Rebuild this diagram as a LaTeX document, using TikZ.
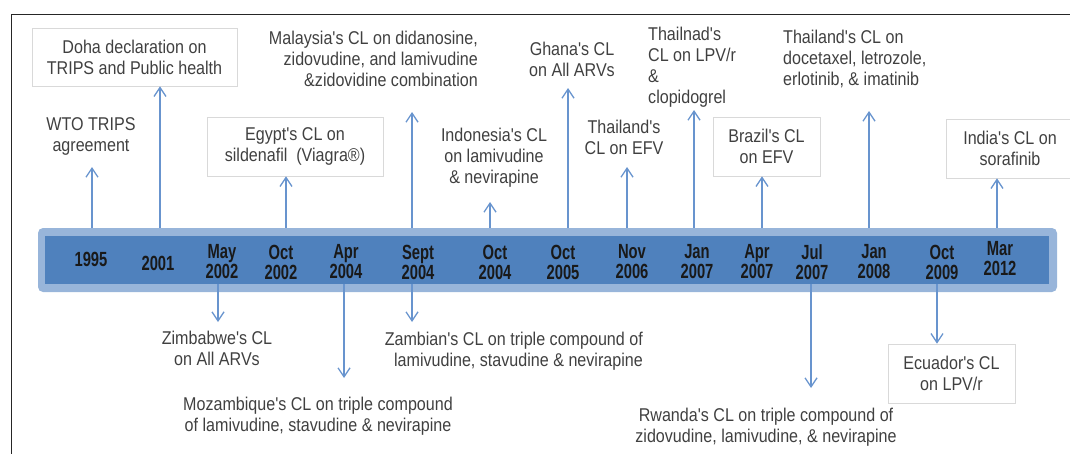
\documentclass[tikz,border=0pt]{standalone}
\usepackage{fontspec}
\setmainfont{Liberation Sans}
\newfontfamily\evfont[FakeStretch=0.87]{Liberation Sans}
\newfontfamily\yrfont[FakeStretch=0.72]{Liberation Sans}
\usetikzlibrary{arrows.meta}
\definecolor{barlight}{RGB}{152,181,218}
\definecolor{bardark}{RGB}{79,129,189}
\definecolor{evblue}{RGB}{104,148,206}
\definecolor{evgrey}{RGB}{64,64,64}
\definecolor{boxline}{RGB}{217,217,217}
\tikzset{
	evtext/.style={font=\evfont\fontsize{18.5}{21}\selectfont, text=evgrey, align=center, inner sep=0pt},
	evbox/.style={evtext, draw=boxline, line width=0.6pt},
	yrtext/.style={font=\yrfont\bfseries\fontsize{20.5}{20}\selectfont, text=black!90, align=center, inner sep=0pt},
	evarrow/.style={draw=evblue, line width=1.3pt, -{Straight Barb[length=9pt,width=12pt]}},
}

\begin{document}
\begin{tikzpicture}[x=1pt,y=-1pt]
		%%%%% START %%%%%
		\useasboundingbox (0,0) rectangle (1070,453);
		
		% frame
		\draw[line width=0.9pt, color=black!85] (11,470) -- (11,14) -- (1080,14);
		
		% time bar
		\node[fill=barlight, rounded corners=5pt, minimum width=1019pt, minimum height=64pt, inner sep=0pt] (bar) at (547.5,260) {};
		\node[fill=bardark, minimum width=1004pt, minimum height=48pt, inner sep=0pt] (barin) at (547,260) {};
		
		\node[yrtext] (y1995) at (91,259) {1995};
		\node[yrtext] (y2001) at (158,263) {2001};
		\node[yrtext] (may02) at (222,262) {May\\2002};
		\node[yrtext] (oct02) at (281,262) {Oct\\2002};
		\node[yrtext] (apr04) at (346,262) {Apr\\2004};
		\node[yrtext] (sep04) at (418,262) {Sept\\2004};
		\node[yrtext] (oct04) at (495,262) {Oct\\2004};
		\node[yrtext] (oct05) at (563,262) {Oct\\2005};
		\node[yrtext] (nov06) at (632,262) {Nov\\2006};
		\node[yrtext] (jan07) at (697,262) {Jan\\2007};
		\node[yrtext] (apr07) at (757,262) {Apr\\2007};
		\node[yrtext] (jul07) at (812,262) {Jul\\2007};
		\node[yrtext] (jan08) at (874,262) {Jan\\2008};
		\node[yrtext] (oct09) at (942,262) {Oct\\2009};
		\node[yrtext] (mar12) at (1000,258.5) {Mar\\2012};
		
		% events above
		\node[evtext] (wto) at (91,136) {WTO TRIPS\\agreement};
		\coordinate (wtotip) at (92,167);
		\draw[evarrow] (bar.north -| wtotip) -- (wtotip);
		
		\node[evbox, minimum width=205pt, minimum height=58pt] (doha) at (134.5,57) {Doha declaration on\\TRIPS and Public health};
		\draw[evarrow] (bar.north -| 160,0) -- (160,0 |- doha.south);
		
		\node[evbox, minimum width=176pt, minimum height=59pt] (egypt) at (295,146.5) {Egypt's CL on\\sildenafil~ (Viagra®)};
		\draw[evarrow] (bar.north -| 286,0) -- (286,0 |- egypt.south);
		
		\node[evtext, align=right, anchor=east] (malay) at (478,58.7) {Malaysia's CL on didanosine,\\zidovudine, and lamivudine\\\&zidovidine combination};
		\coordinate (malaytip) at (412,112);
		\draw[evarrow] (bar.north -| malaytip) -- (malaytip);
		
		\node[evtext] (indo) at (494,157.5) {Indonesia's CL\\on lamivudine\\\& nevirapine};
		\coordinate (indotip) at (490,202);
		\draw[evarrow] (bar.north -| indotip) -- (indotip);
		
		\node[evtext] (ghana) at (572,59.5) {Ghana's CL\\on All ARVs};
		\coordinate (ghanatip) at (568,88);
		\draw[evarrow] (bar.north -| ghanatip) -- (ghanatip);
		
		\node[evtext] (thaiefv) at (624,137.5) {Thailand's\\CL on EFV};
		\coordinate (thaiefvtip) at (627,167);
		\draw[evarrow] (bar.north -| thaiefvtip) -- (thaiefvtip);
		
		\node[evtext, align=left, anchor=west] (thailpv) at (648,67.5) {Thailnad's\\CL on LPV/r\\\&\\clopidogrel};
		\coordinate (thailpvtip) at (694,110);
		\draw[evarrow] (bar.north -| thailpvtip) -- (thailpvtip);
		
		\node[evbox, minimum width=107pt, minimum height=59pt] (brazil) at (766.5,146.5) {Brazil's CL\\on EFV};
		\draw[evarrow] (bar.north -| 762,0) -- (762,0 |- brazil.south);
		
		\node[evtext, align=left, anchor=west] (thaidoc) at (783,58.7) {Thailand's CL on\\docetaxel, letrozole,\\erlotinib, \& imatinib};
		\coordinate (thaidoctip) at (869,111);
		\draw[evarrow] (bar.north -| thaidoctip) -- (thaidoctip);
		
		\node[evbox, minimum width=128pt, minimum height=59pt] (india) at (1010,148.5) {India's CL on\\sorafinib};
		\draw[evarrow] (bar.north -| 997,0) -- (997,0 |- india.south);
		
		% events below
		\node[evtext] (zimb) at (217,348.5) {Zimbabwe's CL\\on All ARVs};
		\coordinate (zimbtip) at (218,322);
		\draw[evarrow] (barin.south -| zimbtip) -- (zimbtip);
		
		\node[evtext] (mozam) at (318,416.5) {Mozambique's CL on triple compound\\of lamivudine, stavudine \& nevirapine};
		\coordinate (mozamtip) at (344,378);
		\draw[evarrow] (barin.south -| mozamtip) -- (mozamtip);
		
		\node[evtext, align=right, anchor=east] (zamb) at (643,351.5) {Zambian's CL on triple compound of\\lamivudine, stavudine \& nevirapine};
		\coordinate (zambtip) at (412,322);
		\draw[evarrow] (barin.south -| zambtip) -- (zambtip);
		
		\node[evtext] (rwanda) at (766,427) {Rwanda's CL on triple compound of\\zidovudine, lamivudine, \& nevirapine};
		\coordinate (rwandatip) at (811,388);
		\draw[evarrow] (barin.south -| rwandatip) -- (rwandatip);
		
		\node[evbox, minimum width=127pt, minimum height=59pt] (ecuador) at (951.5,373.5) {Ecuador's CL\\on LPV/r};
		\draw[evarrow] (barin.south -| 937,0) -- (937,0 |- ecuador.north);
		
		%%%%% END %%%%%
\end{tikzpicture}
\end{document}
